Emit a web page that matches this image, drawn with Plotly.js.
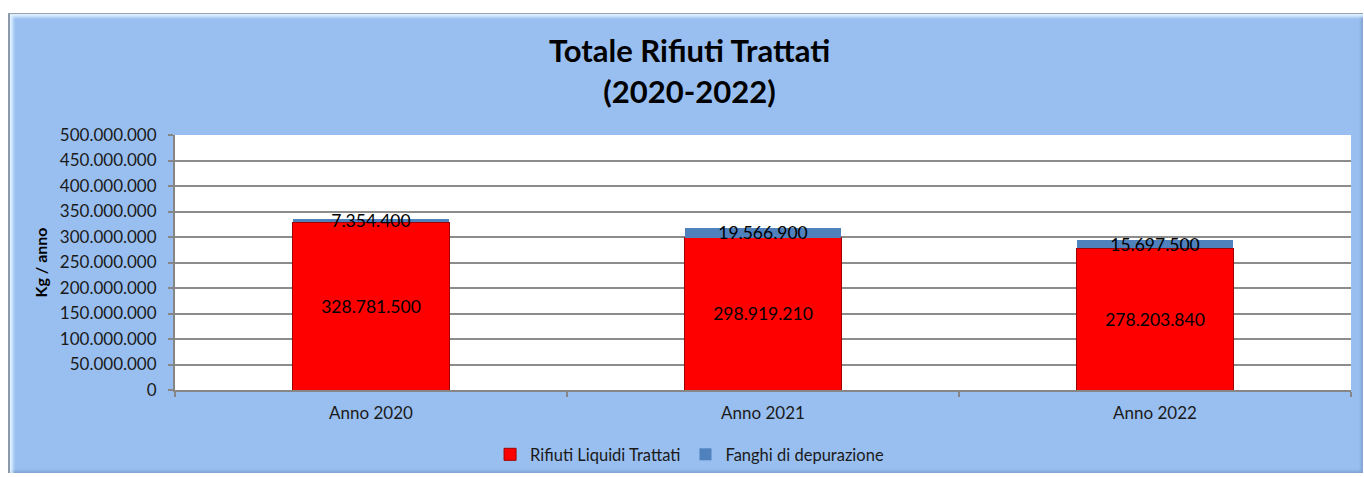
<!DOCTYPE html>
<html>
<head>
<meta charset="utf-8">
<script src="https://cdn.plot.ly/plotly-3.0.1.min.js"></script>
<style>
  html, body { margin: 0; padding: 0; background: #ffffff; width: 1364px; height: 477px; overflow: hidden; }
  #frame {
    position: absolute; left: 8px; top: 13px; width: 1355px; height: 460px;
    box-sizing: border-box;
    border-left: 2px solid #8c9aab; border-top: 1px solid #9aa4b0;
    box-shadow: inset 3px 3px 3px rgba(230,245,255,0.9), inset -2px -2px 3px rgba(80,110,150,0.35);
    background: #99bff0;
  }
  #chart { position: absolute; left: 8px; top: 13px; width: 1355px; height: 460px; }
</style>
</head>
<body>
<div id="frame"></div>
<div id="chart"></div>
<script>
const categories = ["Anno 2020", "Anno 2021", "Anno 2022"];
const rifiutiLiquidi = [328781500, 298919210, 278203840];
const fanghi = [7354400, 19566900, 15697500];
const seriesNames = ["Rifiuti Liquidi Trattati", "Fanghi di depurazione"];
const yTicks = [0, 50000000, 100000000, 150000000, 200000000, 250000000, 300000000, 350000000, 400000000, 450000000, 500000000];

const FONT = "Lato, 'Open Sans', sans-serif";

const traces = [
  {
    type: "bar", name: seriesNames[0], x: categories, y: rifiutiLiquidi,
    marker: { color: "#ff0000", line: { color: "#a00000", width: 1 } },
    texttemplate: "%{y:,.0f}", textposition: "inside", insidetextanchor: "middle",
    textfont: { family: FONT, size: 17.5, color: "#000000" }, textangle: 0,
    hoverinfo: "skip", width: 0.4
  },
  {
    type: "bar", name: seriesNames[1], x: categories, y: fanghi,
    marker: { color: "#4f81bd", line: { width: 0 } },
    texttemplate: "%{y:,.0f}", textposition: "inside", insidetextanchor: "middle",
    textfont: { family: FONT, size: 17.5, color: "#000000" }, textangle: 0,
    constraintext: "none", cliponaxis: false,
    hoverinfo: "skip", width: 0.4
  }
];

const layout = {
  width: 1355, height: 460,
  paper_bgcolor: "rgba(0,0,0,0)", plot_bgcolor: "#ffffff",
  margin: { l: 167, r: 12, t: 122, b: 83 },
  barmode: "stack",
  separators: ",.",
  font: { family: FONT, color: "#1a1a1a", size: 15 },
  uniformtext: { mode: "show", minsize: 17.5 },
  title: {
    text: "<b>Totale Rifiuti Trattati<br>(2020-2022)</b>",
    font: { family: FONT, size: 31, color: "#000000" },
    xref: "container", x: 0.503, xanchor: "center",
    yref: "container", y: 0.893, yanchor: "middle"
  },
  xaxis: {
    type: "category", categoryorder: "array", categoryarray: categories,
    showline: true, linecolor: "#868686", linewidth: 2,
    ticks: "outside", tickson: "boundaries", ticklen: 5, tickcolor: "#868686", tickwidth: 2,
    tickfont: { family: FONT, size: 17, color: "#1a1a1a" },
    ticklabelstandoff: 7,
    showgrid: false, fixedrange: true
  },
  yaxis: {
    range: [0, 500000000], tickvals: yTicks, tickformat: ",.0f",
    showline: true, linecolor: "#868686", linewidth: 2,
    ticks: "outside", ticklen: 5, tickcolor: "#868686", tickwidth: 2,
    tickfont: { family: FONT, size: 17, color: "#1a1a1a" },
    ticklabelstandoff: 8,
    showgrid: true, gridcolor: "#8c8c8c", gridwidth: 2,
    zeroline: false,
    title: { text: "<b>Kg / anno</b>", font: { family: FONT, size: 16, color: "#000000" }, standoff: 8 },
    fixedrange: true
  },
  showlegend: true,
  legend: {
    orientation: "h", xref: "container", x: 0.503, xanchor: "center",
    yref: "container", y: 0.04, yanchor: "middle",
    font: { family: FONT, size: 16.5, color: "#1a1a1a" },
    bgcolor: "rgba(0,0,0,0)", itemwidth: 30, traceorder: "normal"
  }
};

Plotly.newPlot("chart", traces, layout, { displayModeBar: false, staticPlot: true });
</script>
</body>
</html>
